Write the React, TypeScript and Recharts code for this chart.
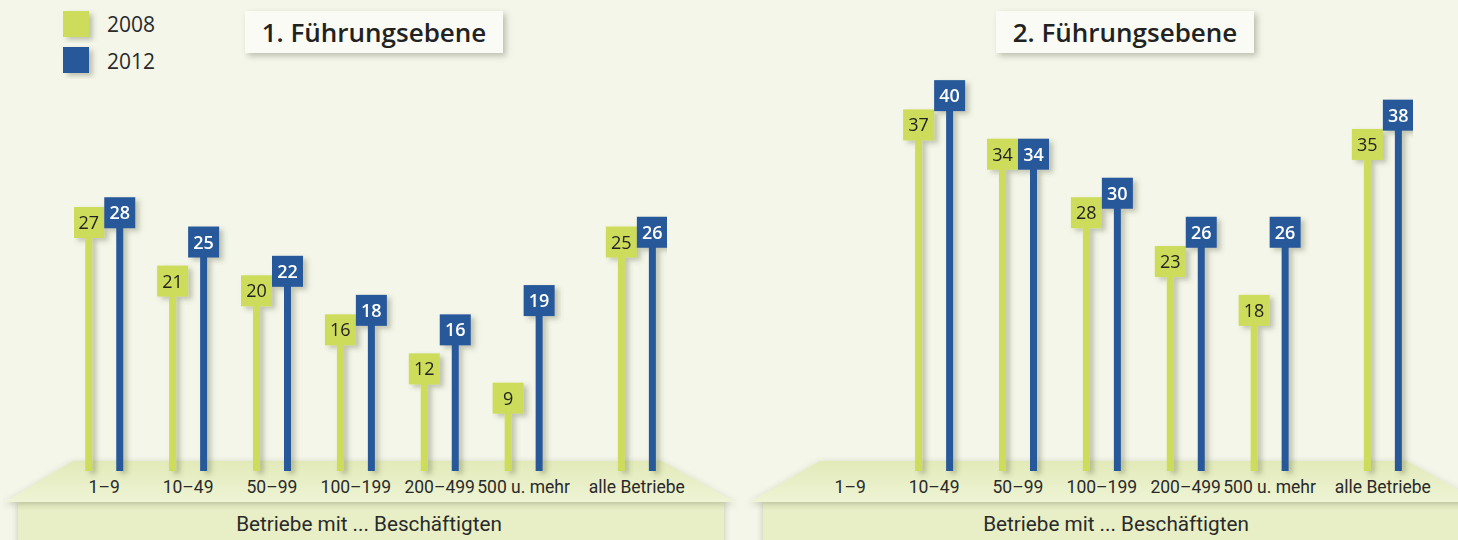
import { Bar, BarChart, XAxis, YAxis } from 'recharts'

const categories = ['1–9', '10–49', '50–99', '100–199', '200–499', '500 u. mehr', 'alle Betriebe']
const ebene1_2008 = [27, 21, 20, 16, 12, 9, 25]
const ebene1_2012 = [28, 25, 22, 18, 16, 19, 26]
const ebene2_2008 = [null, 37, 34, 28, 23, 18, 35]
const ebene2_2012 = [null, 40, 34, 30, 26, 26, 38]
const years = ['2008', '2012']
const panelTitles = ['1. Führungsebene', '2. Führungsebene']
const axisTitle = 'Betriebe mit ... Beschäftigten'

const GREEN = '#cddc5a'
const BLUE = '#27589a'
const BG = '#f4f6ea'
const TEXT = '#2a2a2a'
const FONT = "'Open Sans', 'Noto Sans', sans-serif"
const NARROW = "Roboto, 'Noto Sans', sans-serif"

// "alle Betriebe" sits a bit apart from the size classes
const slots = categories.map((_, i) => (i === categories.length - 1 ? i + 0.35 : i))
const edge = 0.36

function Lollipop(props: any) {
  const { x, y, width, height, fill, textColor, weight, dataKey, payload } = props
  const v = payload ? payload[dataKey] : null
  if (v == null || !height) return null
  const cx = x + width / 2
  const floor = y + height - 15
  return (
    <g filter="url(#soft)">
      <rect x={x} y={y} width={width} height={floor - y} fill={fill} />
      <rect x={cx - 15.5} y={y - 15.5} width={31} height={31} fill={fill} />
      <text
        x={cx}
        y={y}
        dy="0.36em"
        textAnchor="middle"
        fontSize={18}
        fontWeight={weight}
        fontFamily={FONT}
        fill={textColor}
      >
        {v}
      </text>
    </g>
  )
}

function CatTick(props: any) {
  const { x, y, payload } = props
  const idx = slots.indexOf(payload.value)
  return (
    <text x={x} y={y + 1} dy="0.35em" textAnchor="middle" fontSize={17.5} fontFamily={NARROW} fill={TEXT}>
      {categories[idx]}
    </text>
  )
}

type PanelProps = {
  left: number
  width: number
  marginLeft: number
  marginRight: number
  s2008: (number | null)[]
  s2012: (number | null)[]
}

function Panel({ left, width, marginLeft, marginRight, s2008, s2012 }: PanelProps) {
  const data = categories.map((name, i) => ({
    name,
    pos: slots[i],
    y2008: s2008[i],
    y2012: s2012[i],
  }))
  return (
    <div style={{ position: 'absolute', left, top: 0 }}>
      <BarChart
        width={width}
        height={540}
        data={data}
        margin={{ top: 0, right: marginRight, left: marginLeft, bottom: 24 }}
        barGap={24}
      >
        <XAxis
          type="number"
          dataKey="pos"
          domain={[-edge, slots[slots.length - 1] + edge]}
          ticks={slots}
          interval={0}
          allowDataOverflow
          axisLine={false}
          tickLine={false}
          tickSize={0}
          tickMargin={0}
          height={30}
          tick={<CatTick />}
        />
        <YAxis hide domain={[0, 49.8]} allowDataOverflow />
        <Bar
          dataKey="y2008"
          fill={GREEN}
          barSize={7}
          isAnimationActive={false}
          shape={(p: any) => <Lollipop {...p} textColor="#222" weight={500} />}
        />
        <Bar
          dataKey="y2012"
          fill={BLUE}
          barSize={7}
          isAnimationActive={false}
          shape={(p: any) => <Lollipop {...p} textColor="#fff" weight={600} />}
        />
      </BarChart>
    </div>
  )
}

function TitleBox({ left, text }: { left: number; text: string }) {
  return (
    <div
      style={{
        position: 'absolute',
        left,
        top: 11,
        width: 258,
        height: 42,
        background: '#fafbf4',
        boxShadow: '3px 3px 6px rgba(60,65,40,0.3)',
        display: 'flex',
        alignItems: 'center',
        justifyContent: 'center',
        fontFamily: FONT,
        fontWeight: 600,
        fontSize: 26,
        color: '#222',
      }}
    >
      {text}
    </div>
  )
}

export default function App() {
  return (
    <div
      style={{
        position: 'fixed',
        left: 0,
        top: 0,
        width: 1458,
        height: 540,
        background: BG,
        overflow: 'hidden',
      }}
    >
      <svg width={1458} height={540} style={{ position: 'absolute', left: 0, top: 0 }}>
        <defs>
          <filter id="soft" x="-60%" y="-20%" width="220%" height="140%">
            <feDropShadow dx="4" dy="3" stdDeviation="2.5" floodColor="#4a4f30" floodOpacity="0.3" />
          </filter>
          <filter id="strip" x="-5%" y="-30%" width="110%" height="160%">
            <feDropShadow dx="0" dy="2" stdDeviation="3" floodColor="#4a4f30" floodOpacity="0.3" />
          </filter>
          <linearGradient id="floor" x1="0" y1="0" x2="0" y2="1">
            <stop offset="0%" stopColor="#e2eab9" />
            <stop offset="100%" stopColor="#eef4d5" />
          </linearGradient>
        </defs>
        {/* bottom strips */}
        <rect x={18} y={500} width={706} height={45} fill="#e8efc6" filter="url(#strip)" />
        <rect x={763} y={500} width={700} height={45} fill="#e8efc6" filter="url(#strip)" />
        {/* floors */}
        <polygon points="73,461 662,461 735,502 5,502" fill="url(#floor)" filter="url(#strip)" />
        <polygon points="820,461 1407,461 1480,502 750,502" fill="url(#floor)" filter="url(#strip)" />
        <text x={369} y={524} dy="0.35em" textAnchor="middle" fontSize={20.7} fontFamily={NARROW} fill={TEXT}>
          {axisTitle}
        </text>
        <text x={1116} y={524} dy="0.35em" textAnchor="middle" fontSize={20.7} fontFamily={NARROW} fill={TEXT}>
          {axisTitle}
        </text>
        {/* legend */}
        <rect x={63} y={11} width={26} height={26} fill={GREEN} filter="url(#soft)" />
        <rect x={63} y={47} width={26} height={26} fill={BLUE} filter="url(#soft)" />
        <text x={107} y={24} dy="0.36em" fontSize={21} fontFamily={FONT} fill={TEXT}>
          {years[0]}
        </text>
        <text x={107} y={61} dy="0.36em" fontSize={21} fontFamily={FONT} fill={TEXT}>
          {years[1]}
        </text>
      </svg>
      <TitleBox left={245} text={panelTitles[0]} />
      <TitleBox left={996} text={panelTitles[1]} />
      <Panel left={0} width={740} marginLeft={74} marginRight={73} s2008={ebene1_2008} s2012={ebene1_2012} />
      <Panel left={740} width={718} marginLeft={80} marginRight={45} s2008={ebene2_2008} s2012={ebene2_2012} />
    </div>
  )
}
